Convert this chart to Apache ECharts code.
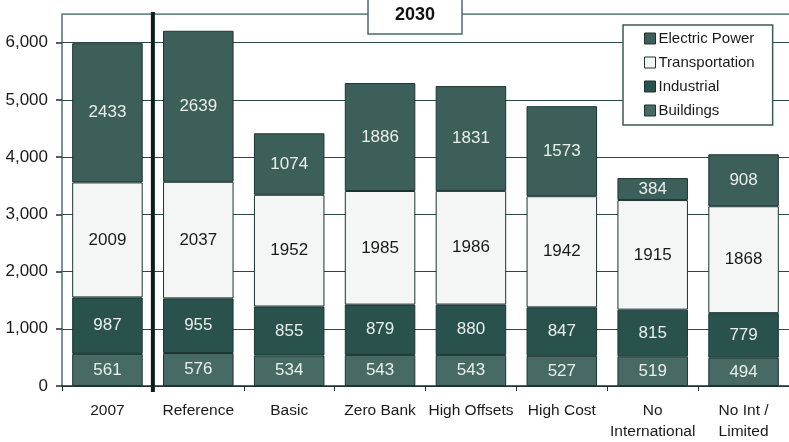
<!DOCTYPE html>
<html>
<head>
<meta charset="utf-8">
<script src="https://cdn.jsdelivr.net/npm/echarts@6/dist/echarts.min.js"></script>
<style>
html,body{margin:0;padding:0;background:#fff;}
#chart{width:789px;height:442px;}
</style>
</head>
<body>
<div id="chart"></div>
<script>
const categories = ['2007', 'Reference', 'Basic', 'Zero Bank', 'High Offsets', 'High Cost', 'No\nInternational', 'No Int /\nLimited'];
const buildings = [561, 576, 534, 543, 543, 527, 519, 494];
const industrial = [987, 955, 855, 879, 880, 847, 815, 779];
const transportation = [2009, 2037, 1952, 1985, 1986, 1942, 1915, 1868];
const electricPower = [2433, 2639, 1074, 1886, 1831, 1573, 384, 908];
const yMin = 0, yMax = 6500, yStep = 1000;
const periodLabel = '2030';

const FONT = "'Liberation Sans', Arial, sans-serif";
const C_EP = '#3d5f5a', C_TR = '#f4f6f5', C_IN = '#29524d', C_BU = '#476a65';
const EDGE = '#1b3431';

function mkSeries(name, data, color, labelColor) {
  return {
    name: name, type: 'bar', stack: 'total', data: data,
    barCategoryGap: '22.4%',
    itemStyle: { color: color, borderColor: EDGE, borderWidth: 1 },
    label: { show: true, position: 'inside', color: labelColor, fontSize: 17, fontFamily: FONT },
    emphasis: { disabled: true }
  };
}

const chart = echarts.init(document.getElementById('chart'));
const option = {
  animation: false,
  backgroundColor: '#fff',
  textStyle: { fontFamily: FONT },
  grid: { left: 62, right: -5, top: 14, bottom: 56 },
  legend: {
    orient: 'vertical', left: 623, top: 25,
    data: ['Electric Power', 'Transportation', 'Industrial', 'Buildings'],
    backgroundColor: '#fff', borderColor: '#3c5a56', borderWidth: 1.5,
    padding: [6, 18, 7, 21], itemGap: 9, itemWidth: 11, itemHeight: 11,
    icon: 'rect',
    textStyle: { fontSize: 15, color: '#1a1a1a', fontFamily: FONT, padding: [0, 0, 0, -2] },
    itemStyle: { borderColor: EDGE, borderWidth: 1 },
    selectedMode: false
  },
  xAxis: {
    type: 'category', data: categories,
    axisLine: { lineStyle: { color: '#1a2f2c', width: 1.5 } },
    axisTick: { show: true, length: 5, lineStyle: { color: '#1a2f2c' } },
    axisLabel: { interval: 0, color: '#1a1a1a', fontSize: 15.5, margin: 14, lineHeight: 21, fontFamily: FONT }
  },
  yAxis: {
    type: 'value', min: yMin, max: yMax, interval: yStep,
    axisLine: { show: true, lineStyle: { color: '#4d706b', width: 1.5 } },
    axisTick: { show: true, length: 6, lineStyle: { color: '#1a2f2c', width: 1.5 } },
    axisLabel: { showMaxLabel: false, color: '#1a1a1a', fontSize: 17, margin: 14, fontFamily: FONT,
      formatter: v => v.toLocaleString('en-US') },
    splitLine: { show: true, lineStyle: { color: ['#2a4945','#2a4945','#2a4945','#2a4945','#2a4945','#2a4945','#2a4945','#6a8c87'], width: 1.2 } }
  },
  series: [
    mkSeries('Buildings', buildings, C_BU, '#e8eeec'),
    mkSeries('Industrial', industrial, C_IN, '#e8eeec'),
    mkSeries('Transportation', transportation, C_TR, '#1a1a1a'),
    mkSeries('Electric Power', electricPower, C_EP, '#e8eeec')
  ]
};
chart.setOption(option);

// decorations positioned from the axes
const x0 = chart.convertToPixel({ xAxisIndex: 0 }, categories[0]);
const x1 = chart.convertToPixel({ xAxisIndex: 0 }, categories[1]);
const xSep = (x0 + x1) / 2;
const yTop = chart.convertToPixel({ yAxisIndex: 0 }, yMax);
const yBot = chart.convertToPixel({ yAxisIndex: 0 }, yMin);
const xMid = 415;

chart.setOption({
  graphic: [
    { type: 'line', z: 100, shape: { x1: 62, y1: yTop, x2: 789, y2: yTop }, style: { stroke: '#6a8c87', lineWidth: 1.5 } },
    { type: 'line', z: 101, shape: { x1: xSep, y1: yTop - 2, x2: xSep, y2: yBot + 6 }, style: { stroke: '#0a1f1c', lineWidth: 4 } },
    { type: 'rect', z: 102, shape: { x: xMid - 47, y: -4, width: 94, height: 38 }, style: { fill: '#fff', stroke: '#4a6c68', lineWidth: 1.5 } },
    { type: 'text', z: 103, x: xMid, y: 15, style: { text: periodLabel, fill: '#111', font: 'bold 18px ' + FONT, align: 'center', verticalAlign: 'middle' } }
  ]
});
</script>
</body>
</html>
